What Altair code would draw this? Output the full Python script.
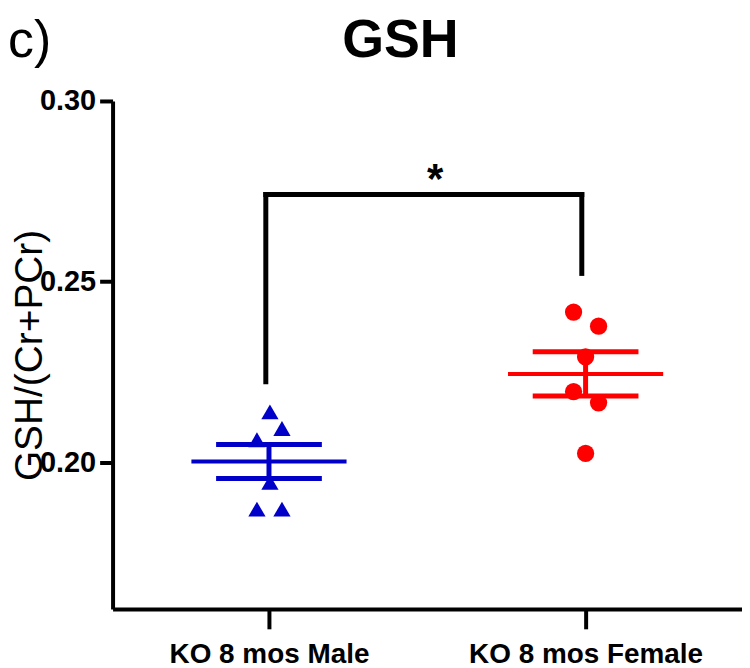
import altair as alt
import pandas as pd

# ---- data ----
groups = ["KO 8 mos Male", "KO 8 mos Female"]
group_pos = [1, 2]
male_values = [0.2140, 0.2094, 0.2063, 0.1945, 0.1871, 0.1871]
male_jitter = [0.003, 0.041, -0.038, 0.003, -0.038, 0.041]
female_values = [0.2416, 0.2377, 0.2292, 0.2196, 0.2165, 0.2025]
female_jitter = [-0.038, 0.041, 0.0, -0.038, 0.041, 0.0]
means = [0.2003, 0.2245]
sems = [0.0047, 0.0061]
bracket_x = [0.99, 1.988]
bracket_top = 0.2741
bracket_leg_bottom = [0.2223, 0.2523]
star_text = "*"
star_x = 1.525
y_ticks = [0.20, 0.25, 0.30]
title_text = "GSH"
panel_text = "c)"

colors = ["#0000C8", "#FF0000"]
shapes = ["triangle-up", "circle"]
FONT = "Liberation Sans"

pts = pd.DataFrame(
    [{"group": groups[0], "x": group_pos[0] + j, "value": v} for v, j in zip(male_values, male_jitter)]
    + [{"group": groups[1], "x": group_pos[1] + j, "value": v} for v, j in zip(female_values, female_jitter)]
)
stats = pd.DataFrame({"group": groups, "x": group_pos, "mean": means, "sem": sems})
legs = pd.DataFrame({"x": bracket_x, "lo": bracket_leg_bottom, "top": [bracket_top] * 2})
top = pd.DataFrame({"x": [bracket_x[0]], "x2": [bracket_x[1]], "y": [bracket_top]})
star = pd.DataFrame({"x": [star_x], "y": [bracket_top], "t": [star_text]})

xdom = [0.506, 2.494]
ydom = [0.1595, 0.30]

xscale = alt.Scale(domain=xdom, nice=False, zero=False)
yscale = alt.Scale(domain=ydom, nice=False, zero=False)
color = alt.Color("group:N", scale=alt.Scale(domain=groups, range=colors), legend=None)

xaxis = alt.Axis(
    values=group_pos, title=None, grid=False,
    labelExpr="datum.value == 1 ? 'KO 8 mos Male' : 'KO 8 mos Female'",
    labelFont=FONT, labelFontSize=28, labelFontWeight="bold", labelColor="black",
    labelLimit=0, labelPadding=12, tickSize=20, tickWidth=4, tickColor="black",
    domainWidth=4, domainColor="black",
)
yaxis = alt.Axis(
    values=y_ticks, format=".2f", title="GSH/(Cr+PCr)", grid=False,
    titleFont=FONT, titleFontSize=39, titleFontWeight="normal", titleColor="black",
    titleX=-83, titleY=255, titleAngle=270, titleAlign="center", titleBaseline="middle",
    labelFont=FONT, labelFontSize=29, labelFontWeight="bold", labelColor="black",
    labelPadding=4, tickSize=13, tickWidth=4, tickColor="black",
    domainWidth=4, domainColor="black",
)

base_x = alt.X("x:Q", scale=xscale, axis=xaxis)

points = alt.Chart(pts).mark_point(filled=True, size=300, opacity=1, strokeWidth=0).encode(
    x=base_x,
    y=alt.Y("value:Q", scale=yscale, axis=yaxis),
    color=color,
    shape=alt.Shape("group:N", scale=alt.Scale(domain=groups, range=shapes), legend=None),
)

ebase = alt.Chart(stats).transform_calculate(
    lo="datum.mean - datum.sem", hi="datum.mean + datum.sem",
    ml="datum.x - 0.245", mr="datum.x + 0.245",
    cl="datum.x - 0.167", cr="datum.x + 0.167",
)
mean_line = ebase.mark_rule(strokeWidth=4).encode(
    x=alt.X("ml:Q", scale=xscale), x2="mr:Q", y=alt.Y("mean:Q", scale=yscale), color=color
)
cap_lo = ebase.mark_rule(strokeWidth=5).encode(
    x=alt.X("cl:Q", scale=xscale), x2="cr:Q", y=alt.Y("lo:Q", scale=yscale), color=color
)
cap_hi = ebase.mark_rule(strokeWidth=5).encode(
    x=alt.X("cl:Q", scale=xscale), x2="cr:Q", y=alt.Y("hi:Q", scale=yscale), color=color
)
vbar = ebase.mark_rule(strokeWidth=5).encode(
    x=alt.X("x:Q", scale=xscale), y=alt.Y("lo:Q", scale=yscale), y2="hi:Q", color=color
)

b_top = alt.Chart(top).mark_rule(strokeWidth=5, color="black", strokeCap="square").encode(
    x=alt.X("x:Q", scale=xscale), x2="x2:Q", y=alt.Y("y:Q", scale=yscale)
)
b_legs = alt.Chart(legs).mark_rule(strokeWidth=5, color="black", strokeCap="square").encode(
    x=alt.X("x:Q", scale=xscale), y=alt.Y("lo:Q", scale=yscale), y2="top:Q"
)
star_mark = alt.Chart(star).mark_text(
    font=FONT, fontSize=42, fontWeight="bold", color="black", baseline="alphabetic", dy=-2
).encode(x=alt.X("x:Q", scale=xscale), y=alt.Y("y:Q", scale=yscale), text="t:N")

panel_label = alt.Chart(pd.DataFrame({"t": [panel_text]})).mark_text(
    font=FONT, fontSize=52, fontWeight="normal", color="black", align="left", baseline="alphabetic"
).encode(x=alt.value(-105), y=alt.value(-44), text="t:N")

title_label = alt.Chart(pd.DataFrame({"t": [title_text]})).mark_text(
    font=FONT, fontSize=54, fontWeight="bold", color="black", align="center", baseline="alphabetic"
).encode(x=alt.value(289), y=alt.value(-44), text="t:N")

chart = alt.layer(
    points, mean_line, cap_lo, cap_hi, vbar, b_top, b_legs, star_mark, panel_label, title_label
).properties(
    width=632, height=510,
    padding={"left": 105, "top": 92, "right": 0, "bottom": 58},
    autosize=alt.AutoSizeParams(type="none"),
    background="white",
).configure_view(
    stroke="transparent", strokeWidth=0
).configure_axis(
    grid=False
)

chart.save("out.html", embed_options={"renderer": "svg", "actions": False})
